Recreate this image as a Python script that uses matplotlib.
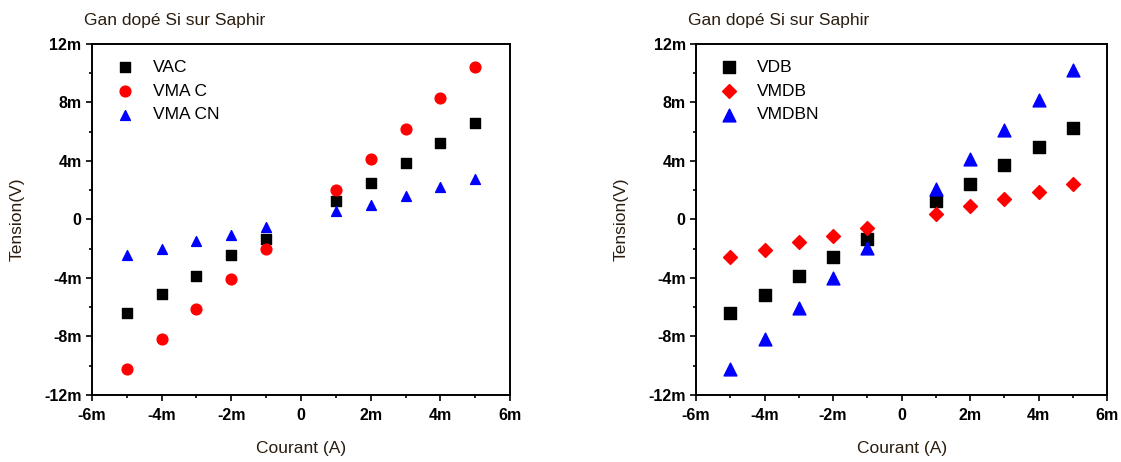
import matplotlib.pyplot as plt
from matplotlib.ticker import MultipleLocator, FuncFormatter

plt.rcParams['font.family'] = ['Liberation Sans', 'DejaVu Sans']

# courant en mA, tension en mV
courant = [-5, -4, -3, -2, -1, 1, 2, 3, 4, 5]

vac = [-6.4, -5.1, -3.85, -2.45, -1.36, 1.27, 2.52, 3.84, 5.2, 6.6]
vmac = [-10.25, -8.2, -6.1, -4.05, -2.0, 2.0, 4.15, 6.2, 8.3, 10.4]
vmacn = [-2.4, -2.0, -1.5, -1.05, -0.52, 0.55, 1.0, 1.62, 2.25, 2.77]

vdb = [-6.4, -5.15, -3.85, -2.55, -1.36, 1.23, 2.43, 3.73, 4.96, 6.25]
vmdb = [-2.55, -2.1, -1.57, -1.11, -0.57, 0.39, 0.95, 1.41, 1.87, 2.43]
vmdbn = [-10.2, -8.15, -6.05, -4.0, -1.95, 2.1, 4.1, 6.13, 8.18, 10.23]

titre = 'Gan dopé Si sur Saphir'
txt = '#2b1d10'

def milli(v, pos):
    return '0' if abs(v) < 1e-9 else '%dm' % round(v)

def style(ax):
    ax.set_xlim(-6, 6)
    ax.set_ylim(-12, 12)
    ax.xaxis.set_major_locator(MultipleLocator(2))
    ax.xaxis.set_minor_locator(MultipleLocator(1))
    ax.yaxis.set_major_locator(MultipleLocator(4))
    ax.yaxis.set_minor_locator(MultipleLocator(2))
    ax.xaxis.set_major_formatter(FuncFormatter(milli))
    ax.yaxis.set_major_formatter(FuncFormatter(milli))
    ax.tick_params(which='both', direction='out', top=False, right=False, width=1.2)
    ax.tick_params(which='major', length=4, labelsize=11.5)
    ax.tick_params(which='minor', length=2.5)
    ax.tick_params(axis='x', pad=5)
    for lab in ax.get_xticklabels() + ax.get_yticklabels():
        lab.set_fontweight('bold')
    for s in ax.spines.values():
        s.set_linewidth(1.4)
    ax.set_xlabel('Courant (A)', fontsize=12.5, color=txt, labelpad=13)
    ax.set_ylabel('Tension(V)', fontsize=12.5, color=txt, labelpad=14)
    ax.text(-0.02, 1.045, titre, transform=ax.transAxes, fontsize=12.5, color=txt, ha='left', va='bottom')

fig = plt.figure(figsize=(11.21, 4.62), dpi=100)
ax1 = fig.add_axes([0.082, 0.145, 0.373, 0.76])
ax2 = fig.add_axes([0.621, 0.145, 0.3665, 0.76])

ax1.scatter(courant, vac, marker='s', s=55, color='black', label='VAC')
ax1.scatter(courant, vmac, marker='o', s=60, color='red', label='VMA C')
ax1.scatter(courant, vmacn, marker='^', s=50, color='blue', label='VMA CN')

ax2.scatter(courant, vdb, marker='s', s=75, color='black', label='VDB')
ax2.scatter(courant, vmdb, marker='D', s=50, color='red', label='VMDB')
ax2.scatter(courant, vmdbn, marker='^', s=85, color='blue', label='VMDBN')

for ax in (ax1, ax2):
    style(ax)
    ax.legend(loc='upper left', frameon=False, fontsize=12.5, handletextpad=0.6,
              borderaxespad=0.6, labelspacing=0.5, borderpad=0.3)

fig.savefig('out.png', dpi=100)
